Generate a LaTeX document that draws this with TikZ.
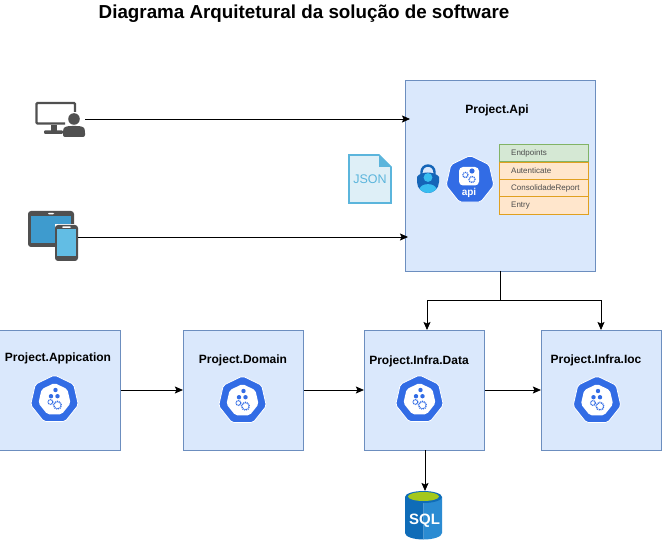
\documentclass[tikz,border=0pt]{standalone}
\usepackage{fontspec}
\setmainfont{Liberation Sans}
\usetikzlibrary{shapes.geometric,arrows.meta}
\definecolor{boxfill}{HTML}{DAE8FC}
\definecolor{boxline}{HTML}{6C8EBF}
\definecolor{kubeblue}{HTML}{326CE5}
\definecolor{devgray}{HTML}{505050}
\definecolor{greenfill}{HTML}{D5E8D4}
\definecolor{greenline}{HTML}{82B366}
\definecolor{orangefill}{HTML}{FFE6CC}
\definecolor{orangeline}{HTML}{E0A020}
\definecolor{jsonfill}{HTML}{DEEFF7}
\definecolor{jsonline}{HTML}{5BB5DC}
\definecolor{tabletblue}{HTML}{3E9BCE}
\definecolor{phoneblue}{HTML}{62BDE4}
\definecolor{lockdark}{HTML}{1565B8}
\definecolor{locklight}{HTML}{38BDF0}
\definecolor{sqldark}{HTML}{0F6CB8}
\definecolor{sqllight}{HTML}{2A8BD2}
\definecolor{sqltop}{HTML}{A4C81C}
\tikzset{
    pics/kube/.style={code={
        \node[heptagon, minimum size=49pt, fill=kubeblue, draw=white, line width=0.8pt] {};
        \node[heptagon, minimum size=33pt, fill=white] {};
        \fill[kubeblue] (1,-9.5) circle (2.2pt);
        \fill[kubeblue] (-3.5,-3.3) circle (2.2pt);
        \fill[kubeblue] (3,-3.3) circle (2.2pt);
        \draw[kubeblue, line width=1.2pt, dash pattern=on 1pt off 0.7pt] (-4,2.5) circle (2.4pt);
        \draw[kubeblue, line width=1.5pt, dash pattern=on 1pt off 0.8pt] (3,5.7) circle (3.8pt);
    }},
}

\begin{document}
\begin{tikzpicture}[
    x=1pt, y=-1pt,
    every node/.style={font=\fontsize{12}{14}\bfseries},
    box/.style={draw=boxline, fill=boxfill, minimum width=120.5pt, minimum height=120pt, inner sep=0pt, line width=0.7pt},
    heptagon/.style={regular polygon, regular polygon sides=7, inner sep=0pt, rounded corners=2pt},
    row/.style={draw=orangeline, fill=orangefill, minimum width=89pt, minimum height=17.5pt, inner sep=0pt, line width=1pt},
    rowtext/.style={anchor=west, inner sep=0pt, font=\fontsize{8}{10}\selectfont, text=black!70},
    conn/.style={->, >={Stealth[length=8pt, width=7pt, inset=1.5pt]}, line width=0.8pt}
]
\useasboundingbox (0,0) rectangle (662,540);

% Title
\node[font=\fontsize{18.8}{20}\bfseries] (title) at (304,13.5) {Diagrama Arquitetural da solução de software};

% Boxes
\node[box, minimum width=190.5pt, minimum height=191pt] (api) at (500.5,175.5) {};
\node[box] (app) at (60,390) {};
\node[box] (domain) at (243.5,390) {};
\node[box] (data) at (424.5,390) {};
\node[box] (ioc) at (601.5,390) {};

% Box labels
\node (apilabel) at (497,110) {Project.Api};
\node (applabel) at (58,358) {Project.Appication};
\node (domainlabel) at (243,360) {Project.Domain};
\node (datalabel) at (419,361) {Project.Infra.Data};
\node (ioclabel) at (596,360) {Project.Infra.Ioc};

% Icons in the boxes
\pic at (54.5,399.5) {kube};
\pic at (242.5,400.5) {kube};
\pic at (419.5,399.5) {kube};
\pic at (597,400.5) {kube};

% Api icon
\node[heptagon, minimum size=49pt, fill=kubeblue, draw=white, line width=0.8pt] (apiicon) at (470,180) {};
\fill[white, rounded corners=4pt] (459,167) rectangle (479,185.5);
\fill[kubeblue] (472,171) circle (2.6pt);
\draw[kubeblue, line width=1.3pt, dash pattern=on 1pt off 0.8pt] (465.5,175) circle (2.6pt);
\draw[kubeblue, line width=1.3pt, dash pattern=on 1pt off 0.8pt] (472,179.5) circle (3pt);
\node[text=white, font=\fontsize{10}{12}\bfseries, inner sep=0pt] (apitext) at (469,192.5) {api};

% Endpoint table
\node[row, draw=greenline, fill=greenfill] (endpoints) at (544,153) {};
\node[row] (autenticate) at (544,171) {};
\node[row] (report) at (544,188.5) {};
\node[row] (entry) at (544,205.5) {};
\node[rowtext] (endpointstext) at (511,153) {Endpoints};
\node[rowtext] (autenticatetext) at (511,171) {Autenticate};
\node[rowtext] (reporttext) at (511,188.5) {ConsolidadeReport};
\node[rowtext] (entrytext) at (511,205.5) {Entry};

% Lock
\draw[lockdark, line width=2.4pt] (421.5,174) -- (421.5,172) arc (180:360:6.5) -- (434.5,174);
\fill[lockdark] (417,177) .. controls (420,171) and (435,171) .. (439,177) -- (439,182) .. controls (439,189) and (433,193) .. (428,193) .. controls (423,193) and (417,189) .. (417,182) -- cycle;
\fill[locklight] (428,177.5) circle (4.4pt);
\fill[locklight] (419.5,189) .. controls (421,182.5) and (435,182.5) .. (436.5,189) .. controls (433,192) and (431,193) .. (428,193) .. controls (425,193) and (423,192) .. (419.5,189) -- cycle;

% JSON file
\draw[jsonline, fill=jsonfill, line width=1.7pt] (349,155) -- (379,155) -- (391,167) -- (391,203) -- (349,203) -- cycle;
\fill[jsonline] (379,155) -- (391,167) -- (379,167) -- cycle;
\node[text=jsonline, font=\fontsize{12.5}{14}\selectfont, inner sep=0pt] (json) at (370,179.5) {JSON};

% Desktop user
\draw[devgray, line width=2.4pt, rounded corners=1pt] (65,123.5) -- (36.5,123.5) -- (36.5,103) -- (75,103) -- (75,112);
\fill[devgray] (51,125) rectangle (57,131);
\fill[devgray, rounded corners=1pt] (44,130.5) rectangle (63,134);
\fill[devgray] (74,119) circle (5.8pt);
\fill[devgray, rounded corners=2pt] (63,137) -- (63,131) .. controls (64,126) and (70,126) .. (74,126) .. controls (78,126) and (84,126) .. (85,131) -- (85,137) -- cycle;

% Tablet and phone
\fill[devgray, rounded corners=3pt] (28,211) rectangle (74,247);
\fill[tabletblue] (31,216) rectangle (71,243);
\fill[white, rounded corners=1pt] (48,213) rectangle (54,214.5);
\fill[white] (54.5,224.5) rectangle (78.5,262);
\fill[devgray, rounded corners=3pt] (55,225) rectangle (78,261);
\fill[phoneblue] (57,229) rectangle (76,256);
\fill[white, rounded corners=1pt] (62,226.5) rectangle (71,228);

% Database
\fill[sqldark] (405,497) -- (405,533) arc (180:90:18.5 and 6.5) -- (423.5,497) -- cycle;
\fill[sqllight] (423.5,497) -- (423.5,539.5) arc (90:0:18.5 and 6.5) -- (442,497) -- cycle;
\fill[sqldark] (423.5,497) ellipse (18.5pt and 6pt);
\fill[sqltop] (423.5,496.5) ellipse (15.5pt and 4.5pt);
\node[text=white, font=\fontsize{15}{16}\bfseries, inner sep=0pt] (sql) at (424.5,520.5) {SQL};

% Free ends of the connectors
\coordinate (desktop) at (85,119);
\coordinate (tablet) at (78,237);
\coordinate (apiin1) at (410,119);
\coordinate (apiin2) at (408,237);
\coordinate (apiout) at (500.5,271);
\coordinate (split) at (500.5,300);
\coordinate (datain) at (427,330);
\coordinate (iocin) at (601,330);
\coordinate (sqlin) at (425,491);
\coordinate (dataout) at (425,450);

% Connections
\draw[conn] (desktop) -- (apiin1);
\draw[conn] (tablet) -- (apiin2);
\draw[conn] (apiout) -- (split) -| (datain);
\draw[conn] (split) -| (iocin);
\draw[conn] (app) -- (domain);
\draw[conn] (domain) -- (data);
\draw[conn] (data) -- (ioc);
\draw[conn] (dataout) -- (sqlin);

\end{tikzpicture}
\end{document}
